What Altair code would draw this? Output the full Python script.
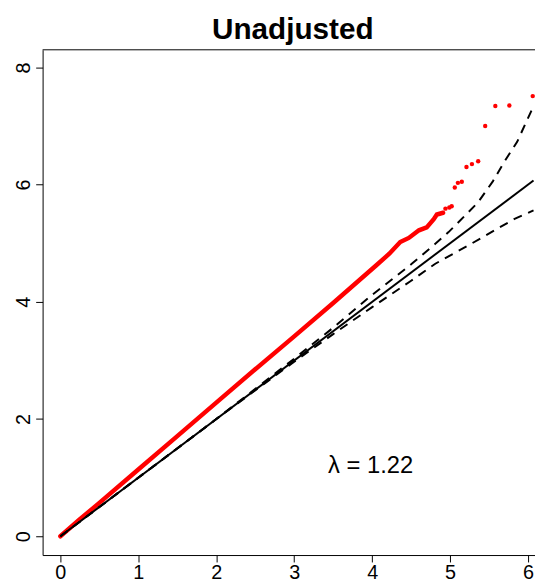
import altair as alt
import pandas as pd

red_x = [0.0, 0.25, 0.5, 1.0, 1.5, 2.0, 2.5, 3.0, 3.5, 4.05, 4.22, 4.36, 4.47, 4.60, 4.70, 4.79, 4.83, 4.91]
red_y = [0.0, 0.29, 0.57, 1.14, 1.71, 2.28, 2.85, 3.41, 3.98, 4.62, 4.82, 5.02, 5.09, 5.22, 5.27, 5.41, 5.49, 5.52]

# Sparse top points
out_x = [4.94, 4.99, 5.02, 5.06, 5.10, 5.15, 5.21, 5.28, 5.36, 5.45, 5.58, 5.76, 6.06]
out_y = [5.59, 5.61, 5.63, 5.95, 6.03, 6.05, 6.30, 6.35, 6.40, 7.00, 7.34, 7.35, 7.51]

# Null line y = x
null_x = [0.0, 6.07]
null_y = [0.0, 6.07]

# Upper / lower confidence band (dashed)
upper_x = [0.0, 2.0, 3.0, 3.5, 4.0, 4.5, 4.81, 4.98, 5.19, 5.36, 5.55, 5.70, 5.86, 6.07]
upper_y = [0.0, 2.0, 3.03, 3.56, 4.12, 4.64, 4.99, 5.19, 5.47, 5.70, 6.06, 6.40, 6.73, 7.34]
lower_x = [0.0, 2.0, 3.0, 3.5, 4.0, 4.5, 4.81, 4.93, 5.23, 5.57, 5.82, 6.07]
lower_y = [0.0, 2.0, 2.98, 3.45, 3.91, 4.36, 4.65, 4.74, 4.96, 5.22, 5.41, 5.56]

x_ticks = [0, 1, 2, 3, 4, 5, 6]
y_ticks = [0, 2, 4, 6, 8]
lambda_label = ["λ = 1.22"]
lambda_pos_x = [3.98]
lambda_pos_y = [1.08]
title_text = "Unadjusted"

FONT = "Liberation Sans"
W, H = 498, 511

xscale = alt.Scale(domain=[-0.228, 6.089], nice=False, zero=False)
yscale = alt.Scale(domain=[-0.32, 8.30], nice=False, zero=False)

xaxis = alt.Axis(values=x_ticks, format="d", title=None, grid=False, domainColor="black", domainWidth=1,
                 tickColor="black", tickSize=7, tickWidth=1, labelFont=FONT, labelFontSize=20,
                 labelColor="black", labelPadding=1, labelFlush=False)
yaxis = alt.Axis(values=y_ticks, format="d", title=None, grid=False, domainColor="black", domainWidth=1,
                 tickColor="black", tickSize=7, tickWidth=1, labelFont=FONT, labelFontSize=20,
                 labelColor="black", labelAngle=270, labelAlign="center", labelBaseline="bottom",
                 labelPadding=2, labelFlush=False)

red_df = pd.DataFrame({"x": red_x, "y": red_y})
out_df = pd.DataFrame({"x": out_x, "y": out_y})
null_df = pd.DataFrame({"x": null_x, "y": null_y})
up_df = pd.DataFrame({"x": upper_x, "y": upper_y})
lo_df = pd.DataFrame({"x": lower_x, "y": lower_y})
lab_df = pd.DataFrame({"x": lambda_pos_x, "y": lambda_pos_y, "t": lambda_label})

red_line = alt.Chart(red_df).mark_line(color="#ff0000", strokeWidth=4.5, strokeCap="round").encode(
    x=alt.X("x:Q", scale=xscale, axis=xaxis),
    y=alt.Y("y:Q", scale=yscale, axis=yaxis),
    order="x:Q",
)
red_pts = alt.Chart(out_df).mark_circle(color="#ff0000", size=20, opacity=1).encode(
    x=alt.X("x:Q", scale=xscale), y=alt.Y("y:Q", scale=yscale)
)
null_line = alt.Chart(null_df).mark_line(color="black", strokeWidth=2).encode(
    x=alt.X("x:Q", scale=xscale), y=alt.Y("y:Q", scale=yscale), order="x:Q"
)
up_line = alt.Chart(up_df).mark_line(color="black", strokeWidth=2, strokeDash=[9, 7]).encode(
    x=alt.X("x:Q", scale=xscale), y=alt.Y("y:Q", scale=yscale), order="x:Q"
)
lo_line = alt.Chart(lo_df).mark_line(color="black", strokeWidth=2, strokeDash=[9, 7]).encode(
    x=alt.X("x:Q", scale=xscale), y=alt.Y("y:Q", scale=yscale), order="x:Q"
)
lab = alt.Chart(lab_df).mark_text(font=FONT, fontSize=24, color="black", align="center",
                                  baseline="alphabetic").encode(
    x=alt.X("x:Q", scale=xscale), y=alt.Y("y:Q", scale=yscale), text="t:N"
)
top_border = alt.Chart(pd.DataFrame({"k": [0]})).mark_rule(color="black", strokeWidth=1).encode(
    x=alt.value(0), x2=alt.value(W), y=alt.value(0)
)

chart = alt.layer(red_line, red_pts, null_line, up_line, lo_line, lab, top_border).properties(
    width=W, height=H,
    title=alt.TitleParams(title_text, font=FONT, fontSize=30, fontWeight="bold", color="black",
                          anchor="middle", dx=4, offset=4),
    autosize=alt.AutoSizeParams(type="none"),
    padding={"left": 35, "top": 39, "right": 0, "bottom": 26},
).configure_view(stroke=None)

chart.save("out.html", embed_options={"renderer": "svg", "actions": False})
